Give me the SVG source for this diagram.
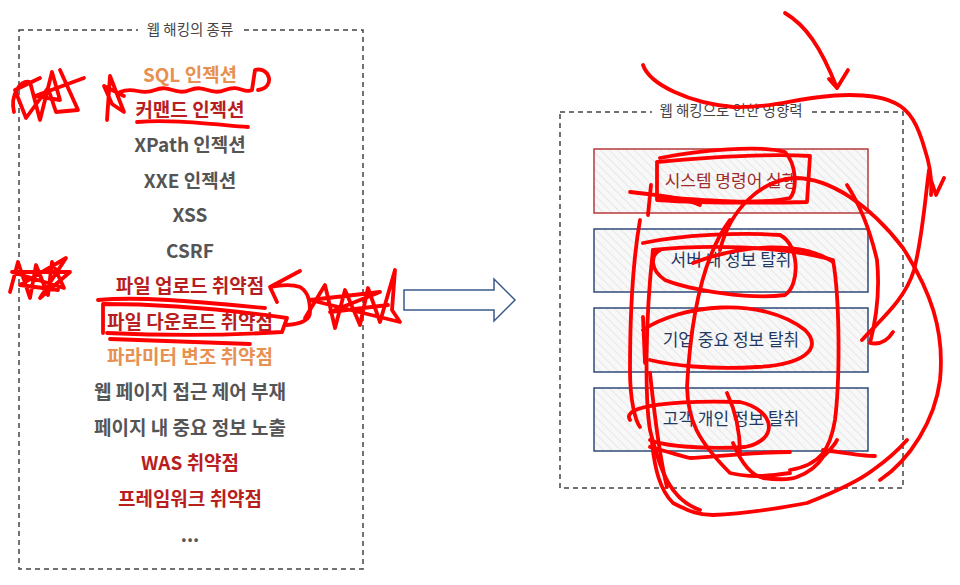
<svg xmlns="http://www.w3.org/2000/svg" width="960" height="585" viewBox="0 0 960 585">
<defs>
<pattern id="hatch" patternUnits="userSpaceOnUse" width="6" height="6" patternTransform="rotate(-45)">
<rect width="6" height="6" fill="#f8f8f8"/>
<line x1="0" y1="0" x2="0" y2="6" stroke="#e2e2e2" stroke-width="1.5"/>
</pattern>
<style>
.frame{fill:none;stroke:#444;stroke-width:1.5;stroke-dasharray:5 4}
.ttl{font-family:"Noto Sans CJK KR","Noto Sans",sans-serif;font-size:14.5px;fill:#444;text-anchor:middle}
.it{font-family:"Noto Sans CJK KR","Noto Sans",sans-serif;font-size:19px;font-weight:bold;text-anchor:middle}
.g{fill:#555}
.o{fill:#E8904F}
.r{fill:#B81E1E}
.box{fill:url(#hatch);stroke-width:1.5}
.bt{font-family:"Noto Sans CJK KR","Noto Sans",sans-serif;font-size:17px;text-anchor:middle}
.ink{fill:none;stroke:#FF0000;stroke-width:3.8;stroke-linecap:round;stroke-linejoin:round}
</style>
</defs>
<rect width="960" height="585" fill="#ffffff"/>

<g id="types">
<rect class="frame" x="19" y="30" width="344" height="539"/>
<rect x="138" y="21" width="106" height="18" fill="#fff"/>
<text class="ttl" x="190" y="35">웹 해킹의 종류</text>
<text class="it o" x="190" y="81.5">SQL 인젝션</text>
<text class="it r" x="190" y="116.5">커맨드 인젝션</text>
<text class="it g" x="190" y="151.5">XPath 인젝션</text>
<text class="it g" x="190" y="187.5">XXE 인젝션</text>
<text class="it g" x="190" y="222">XSS</text>
<text class="it g" x="190" y="257.5">CSRF</text>
<text class="it r" x="190" y="293">파일 업로드 취약점</text>
<text class="it r" x="190" y="328.5">파일 다운로드 취약점</text>
<text class="it o" x="190" y="363.5">파라미터 변조 취약점</text>
<text class="it g" x="190" y="399">웹 페이지 접근 제어 부재</text>
<text class="it g" x="190" y="434.5">페이지 내 중요 정보 노출</text>
<text class="it r" x="190" y="470">WAS 취약점</text>
<text class="it r" x="190" y="505.5">프레임워크 취약점</text>
<text class="it g" x="190" y="542">...</text>
</g>

<g id="connectors">
<polygon points="404,290 494,290 494,279 515,300 494,321 494,310 404,310" fill="#fff" stroke="#3A5A8C" stroke-width="1.5"/>
</g>

<g id="impact">
<rect class="frame" x="560" y="112" width="343" height="376"/>
<rect x="652" y="102" width="158" height="18" fill="#fff"/>
<text class="ttl" x="731" y="116">웹 해킹으로 인한 영향력</text>
<g id="n1">
<rect class="box" x="594" y="149" width="274" height="64" stroke="#B83A3A"/>
<text class="bt" x="731" y="187" fill="#9E2A2A">시스템 명령어 실행</text>
</g>
<g id="n2">
<rect class="box" x="594" y="229" width="274" height="63" stroke="#2F4A7A"/>
<text class="bt" x="731" y="266" fill="#1F3864">서버 내 정보 탈취</text>
</g>
<g id="n3">
<rect class="box" x="594" y="308" width="274" height="64" stroke="#2F4A7A"/>
<text class="bt" x="731" y="346" fill="#1F3864">기업 중요 정보 탈취</text>
</g>
<g id="n4">
<rect class="box" x="594" y="388" width="274" height="63" stroke="#2F4A7A"/>
<text class="bt" x="731" y="425" fill="#1F3864">고객 개인 정보 탈취</text>
</g>
</g>

<g id="ink">
<path class="ink" d="M14,112 C10,95 20,80 30,82 L40,120 L52,72 L60,100 L35,96 L84,78 M60,70 L78,110 L56,112 L48,88 L26,118 L15,90 L40,78"/>
<path class="ink" d="M107,120 L110,76 L124,112 L112,104 L104,86 L124,96"/>
<path class="ink" d="M120,92 C135,86 140,96 155,90 S175,96 190,90 S210,96 225,90 S243,94 252,90 L255,70 C270,66 276,88 258,90"/>
<path class="ink" d="M137,122 C170,119 210,124 248,127"/>
<path class="ink" d="M10,292 L18,262 L30,298 L36,265 L48,295 L52,262 L64,288 L12,272 L70,272 L40,298 L66,258 L20,285 L58,290"/>
<path class="ink" d="M98,300 C140,296 200,302 265,308"/>
<path class="ink" d="M103,305 L103,333 M103,304 C160,304 230,310 287,318 L282,332 C220,336 150,335 107,333 M110,339 C160,341 210,343 250,344"/>
<path class="ink" d="M287,325 C300,324 310,320 310,312 C310,300 308,292 300,287 C292,284 280,285 270,287 M300,271 L270,287 L277,302"/>
<path class="ink" d="M305,318 L325,285 L335,328 L345,290 L360,325 L368,288 L380,322 L395,270 L392,310 L400,322 L310,300 L380,292 L330,312 L388,305"/>
<path class="ink" d="M643,65 C650,85 690,103 733,107 C770,108 790,100 820,97 C850,93 880,95 895,103 C910,110 918,125 925,150 C930,165 932,180 931,195 M931,180 L936,195 L944,178"/>
<path class="ink" d="M929,170 C925,200 922,240 914,270 C905,300 880,320 862,340"/>
<path class="ink" d="M785,13 C805,25 820,45 837,88 M829,79 L837,88 L848,70"/>
<path class="ink" d="M657,162 L657,200 C700,203 760,203 807,202 L810,156 C760,153 700,158 657,162"/>
<path class="ink" d="M660,158 C700,150 760,145 785,152 C797,165 797,190 790,198 C760,205 700,200 660,197"/>
<path class="ink" d="M630,192 C660,195 690,200 700,205 M651,185 L648,215"/>
<path class="ink" d="M720,250 C730,210 760,180 795,178 C830,178 870,205 903,248 C930,290 945,330 940,380 C935,420 910,460 880,480"/>
<path class="ink" d="M847,185 C860,205 870,230 877,260 C880,290 876,320 870,343 C880,345 888,340 893,332"/>
<path class="ink" d="M640,220 C633,260 630,320 630,370 C630,400 635,420 640,427"/>
<path class="ink" d="M643,243 C680,235 740,232 780,235 C800,245 800,285 785,295 C750,300 690,290 665,280 C650,270 650,255 660,250"/>
<path class="ink" d="M653,250 C700,245 780,245 833,260 C840,300 840,380 835,420 C830,450 820,465 790,470"/>
<path class="ink" d="M643,330 C680,305 760,295 805,330 C825,350 800,365 757,367 C710,370 670,365 650,360 M643,317 L645,363"/>
<path class="ink" d="M630,420 C620,405 680,400 740,402 C775,410 780,440 745,447 C700,450 660,445 650,440"/>
<path class="ink" d="M693,263 C740,245 800,240 833,262 M730,220 C700,260 690,330 687,387 C688,420 697,440 730,473 C750,478 770,476 790,473"/>
<path class="ink" d="M653,250 C645,320 645,400 650,430 C660,470 670,500 700,510"/>
<path class="ink" d="M652,443 C655,470 660,490 673,503 C690,512 700,515 713,515 C740,514 770,510 807,503 C840,490 860,480 873,470 C890,458 900,448 907,440"/>
<path class="ink" d="M733,443 C740,460 750,475 763,478 C780,480 790,480 797,477 C810,472 818,465 823,457 C830,450 835,445 837,440"/>
<path class="ink" d="M650,447 C670,452 680,456 690,458 C720,456 760,452 790,452 M823,450 C840,452 860,456 875,456"/>
<path class="ink" d="M650,373 C655,420 660,460 667,487"/>
<path class="ink" d="M727,393 C735,410 740,430 740,453"/>
</g>
</svg>
